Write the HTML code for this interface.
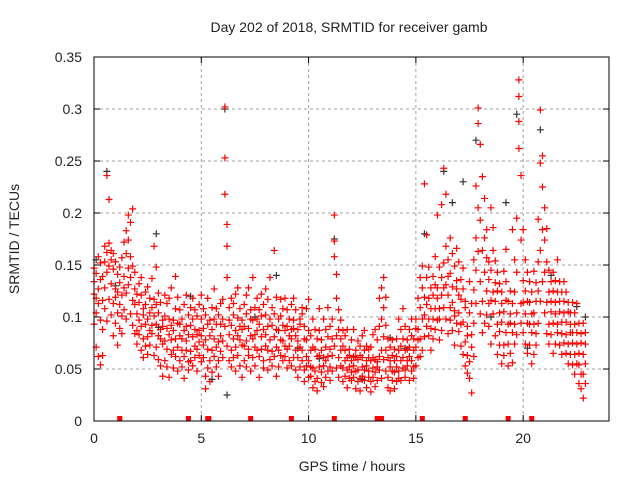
<!DOCTYPE html>
<html><head><meta charset="utf-8"><style>
body{margin:0;background:#fff}
svg text{font-family:"Liberation Sans",sans-serif;font-size:14px;fill:#222}
</style></head><body>
<svg id="chart" width="640" height="480" xmlns="http://www.w3.org/2000/svg">
<rect width="640" height="480" fill="#fff"/>
<text x="349" y="32" text-anchor="middle">Day 202 of 2018, SRMTID for receiver gamb</text>
<text transform="translate(19,239) rotate(-90)" text-anchor="middle">SRMTID / TECUs</text>
<text x="352" y="471" text-anchor="middle">GPS time / hours</text>
<g id="grid"></g>
<g id="ticks"></g>
<g id="black"></g>
<g id="red"></g>
<g id="zeros"></g>
<rect x="94" y="57" width="515" height="364" fill="none" stroke="#000" stroke-width="1"/>
</svg>
<script>
const xTicks=[0,5,10,15,20];
const yTicks=[0,0.05,0.1,0.15,0.2,0.25,0.3,0.35];
const yTickLabels=["0","0.05","0.1","0.15","0.2","0.25","0.3","0.35"];
const redRows=[
[0.0,.122,.093,.147,.134],[0.1,.104,.142,.071,.118],[0.2,.062,.113,.158,.127],[0.3,.136,.054,.097,.152],[0.4,.088,.139,.116,.063],
[0.5,.153,.108,.128,.168],[0.6,.143,.162,.096,.236],[0.7,.117,.171,.213,.149],[0.8,.164,.102,.132,.155],[0.9,.113,.146,.082,.161],
[1.0,.094,.127,.153,.119],[1.1,.124,.073,.104,.141],[1.2,.148,.112,.089,.133],[1.3,.101,.157,.121,.084],[1.4,.139,.172,.107,.128],
[1.5,.183,.123,.161,.098],[1.6,.198,.147,.131,.174],[1.7,.191,.138,.103,.158],[1.8,.204,.116,.149,.092],[1.9,.112,.143,.084,.127],
[2.0,.103,.087,.122,.074],[2.1,.083,.114,.132,.097],[2.2,.091,.138,.068,.121],[2.3,.108,.079,.102,.061],[2.4,.072,.124,.093,.112],
[2.5,.098,.081,.129,.064],[2.6,.087,.118,.073,.104],[2.7,.137,.084,.109,.092],[2.8,.063,.101,.117,.168],[2.9,.093,.071,.112,.148],
[3.0,.082,.104,.059,.123],[3.1,.053,.088,.114,.079],[3.2,.074,.097,.043,.091],[3.3,.101,.077,.121,.058],[3.4,.089,.052,.069,.113],
[3.5,.118,.083,.098,.042],[3.6,.064,.092,.078,.128],[3.7,.097,.068,.051,.087],[3.8,.079,.108,.062,.139],[3.9,.071,.094,.119,.048],
[4.0,.093,.058,.082,.107],[4.1,.052,.079,.098,.068],[4.2,.112,.062,.087,.041],[4.3,.068,.091,.121,.077],[4.4,.057,.102,.083,.049],
[4.5,.092,.067,.109,.058],[4.6,.098,.081,.053,.118],[4.7,.072,.107,.088,.061],[4.8,.048,.083,.101,.069],[4.9,.087,.063,.112,.076],
[5.0,.082,.098,.057,.121],[5.1,.061,.089,.073,.108],[5.2,.043,.078,.102,.031],[5.3,.069,.051,.093,.118],[5.4,.097,.058,.082,.038],
[5.5,.088,.109,.068,.047],[5.6,.079,.062,.098,.127],[5.7,.071,.093,.052,.108],[5.8,.058,.102,.076,.043],[5.9,.093,.067,.113,.082],
[6.0,.077,.117,.061,.098],[6.1,.302,.253,.218,.091],[6.2,.189,.168,.138,.072],[6.3,.109,.083,.097,.058],[6.4,.068,.092,.118,.052],
[6.5,.102,.061,.079,.113],[6.6,.087,.122,.071,.048],[6.7,.063,.082,.099,.128],[6.8,.078,.108,.053,.091],[6.9,.097,.073,.088,.042],
[7.0,.072,.091,.112,.058],[7.1,.052,.077,.103,.121],[7.2,.089,.063,.128,.069],[7.3,.107,.082,.048,.098],[7.4,.061,.097,.079,.138],
[7.5,.083,.053,.109,.071],[7.6,.098,.068,.087,.118],[7.7,.042,.093,.062,.107],[7.8,.081,.122,.069,.101],[7.9,.058,.088,.112,.051],
[8.0,.102,.072,.083,.127],[8.1,.049,.091,.117,.068],[8.2,.078,.059,.098,.138],[8.3,.109,.067,.092,.053],[8.4,.164,.081,.062,.103],
[8.5,.088,.119,.071,.043],[8.6,.068,.098,.052,.087],[8.7,.101,.063,.078,.117],[8.8,.077,.108,.058,.092],[8.9,.062,.087,.118,.072],
[9.0,.091,.069,.051,.107],[9.1,.072,.098,.082,.058],[9.2,.053,.079,.112,.088],[9.3,.097,.061,.089,.118],[9.4,.082,.107,.049,.068],
[9.5,.061,.088,.077,.042],[9.6,.093,.052,.098,.071],[9.7,.068,.103,.058,.109],[9.8,.049,.079,.091,.038],[9.9,.078,.062,.108,.053],
[10.0,.058,.087,.042,.117],[10.1,.043,.068,.052,.082],[10.2,.051,.032,.071,.098],[10.3,.069,.048,.038,.088],[10.4,.041,.062,.079,.029],
[10.5,.063,.087,.052,.108],[10.6,.078,.047,.068,.037],[10.7,.053,.098,.061,.033],[10.8,.088,.058,.042,.071],[10.9,.062,.081,.109,.048],
[11.0,.069,.052,.091,.039],[11.1,.048,.079,.063,.098],[11.2,.198,.173,.158,.072],[11.3,.141,.118,.082,.051],[11.4,.061,.088,.107,.042],
[11.5,.079,.053,.068,.097],[11.6,.051,.072,.087,.038],[11.7,.068,.043,.058,.082],[11.8,.088,.061,.049,.032],[11.9,.052,.069,.041,.063],
[12.0,.058,.039,.078,.047],[12.1,.042,.062,.053,.088],[12.2,.068,.048,.031,.061],[12.3,.049,.077,.038,.059],[12.4,.063,.041,.072,.029],
[12.5,.082,.052,.061,.043],[12.6,.039,.068,.049,.087],[12.7,.058,.032,.053,.072],[12.8,.048,.069,.042,.061],[12.9,.071,.038,.058,.028],
[13.0,.042,.061,.051,.083],[13.1,.059,.047,.088,.033],[13.2,.078,.057,.039,.052],[13.3,.049,.091,.118,.062],[13.4,.068,.128,.098,.041],
[13.5,.109,.138,.059,.081],[13.6,.092,.048,.119,.068],[13.7,.061,.042,.079,.032],[13.8,.052,.071,.029,.058],[13.9,.039,.063,.048,.078],
[14.0,.058,.031,.069,.047],[14.1,.079,.052,.038,.062],[14.2,.048,.068,.098,.041],[14.3,.072,.039,.058,.088],[14.4,.061,.079,.051,.108],
[14.5,.042,.068,.091,.049],[14.6,.069,.053,.078,.058],[14.7,.088,.062,.039,.071],[14.8,.058,.082,.048,.098],[14.9,.079,.052,.068,.041],
[15.0,.071,.098,.053,.089],[15.1,.088,.061,.118,.078],[15.2,.109,.079,.138,.062],[15.3,.128,.098,.068,.149],[15.4,.102,.228,.119,.081],
[15.5,.179,.138,.091,.112],[15.6,.118,.082,.148,.098],[15.7,.089,.128,.108,.068],[15.8,.139,.098,.121,.079],[15.9,.108,.158,.088,.131],
[16.0,.128,.198,.097,.118],[16.1,.098,.148,.078,.108],[16.2,.208,.121,.138,.087],[16.3,.152,.243,.109,.128],[16.4,.218,.131,.168,.098],
[16.5,.121,.155,.084,.139],[16.6,.097,.142,.176,.109],[16.7,.129,.087,.161,.114],[16.8,.106,.149,.073,.101],[16.9,.135,.094,.127,.166],
[17.0,.086,.121,.153,.104],[17.1,.117,.072,.136,.093],[17.2,.095,.127,.064,.147],[17.3,.076,.109,.053,.115],[17.4,.063,.091,.046,.082],
[17.5,.104,.057,.134,.041],[17.6,.083,.027,.113,.071],[17.7,.155,.094,.062,.126],[17.8,.226,.176,.113,.145],[17.9,.301,.286,.205,.163],
[18.0,.266,.193,.134,.103],[18.1,.235,.164,.115,.085],[18.2,.214,.143,.094,.176],[18.3,.184,.125,.157,.102],[18.4,.113,.153,.091,.136],
[18.5,.205,.145,.116,.074],[18.6,.164,.103,.186,.124],[18.7,.133,.082,.115,.154],[18.8,.125,.093,.064,.143],[18.9,.104,.073,.132,.086],
[19.0,.095,.124,.055,.113],[19.1,.073,.105,.144,.063],[19.2,.134,.085,.116,.165],[19.3,.115,.074,.093,.053],[19.4,.094,.125,.065,.103],
[19.5,.085,.113,.184,.056],[19.6,.124,.155,.093,.074],[19.7,.195,.143,.104,.083],[19.8,.328,.312,.262,.288],[19.9,.236,.174,.113,.094],
[20.0,.184,.135,.085,.114],[20.1,.103,.155,.074,.125],[20.2,.143,.094,.115,.065],[20.3,.114,.073,.134,.093],[20.4,.085,.124,.055,.103],
[20.5,.104,.064,.093,.144],[20.6,.133,.084,.115,.073],[20.7,.194,.125,.094,.153],[20.8,.299,.248,.164,.115],[20.9,.255,.225,.184,.134],
[21.0,.205,.174,.143,.104],[21.1,.153,.114,.185,.084],[21.2,.124,.093,.145,.074],[21.3,.105,.134,.083,.115],[21.4,.143,.094,.125,.065],
[21.5,.114,.074,.103,.135],[21.6,.093,.155,.085,.124],[21.7,.134,.105,.073,.115],[21.8,.084,.124,.095,.064],[21.9,.115,.075,.104,.134],
[22.0,.095,.124,.065,.083],[22.1,.074,.105,.114,.055],[22.2,.104,.064,.085,.093],[22.3,.085,.114,.054,.075],[22.4,.064,.093,.045,.104],
[22.5,.113,.074,.085,.055],[22.6,.054,.094,.065,.036],[22.7,.075,.045,.084,.031],[22.8,.022,.064,.045,.094],[22.9,.055,.036,.074,.085]
];
const blackPoints=[[0.1,.155],[0.6,.24],[2.9,.18],[6.1,.30],[5.5,.04],[6.2,.025],[8.5,.14],[11.2,.175],[13.8,.08],
[15.4,.18],[16.3,.24],[16.7,.21],[17.2,.23],[17.8,.27],[19.7,.295],[20.8,.28],[19.2,.21],[21.3,.14],[22.5,.11],
[3.0,.09],[4.5,.12],[9.5,.07],[10.5,.06],[12.5,.04],[14.5,.07],[18.5,.10],[20.2,.07],[1.0,.13],[7.5,.10],[22.9,.10]];
const zeroTimes=[1.2,4.4,5.3,5.35,7.3,9.2,11.2,13.2,13.4,15.3,17.3,19.3,20.4];

const X0=94,X1=609,Y0=421,Y1=57,XMAX=24,YMAX=0.35;
function sx(t){return X0+(X1-X0)*t/XMAX;}
function sy(v){return Y0-(Y0-Y1)*v/YMAX;}
const NS="http://www.w3.org/2000/svg";
function mk(tag,attrs,parent){const e=document.createElementNS(NS,tag);for(const k in attrs)e.setAttribute(k,attrs[k]);parent.appendChild(e);return e;}
const grid=document.getElementById('grid'),ticks=document.getElementById('ticks');
xTicks.forEach(t=>{
  const x=sx(t);
  if(t>0){const g=mk('line',{x1:x,x2:x,y1:Y1,y2:Y0,stroke:'#a0a0a0','stroke-dasharray':'3,3'},grid);
  
  }
  mk('line',{x1:x,x2:x,y1:Y0,y2:Y0-6,stroke:'#000'},ticks);
  mk('line',{x1:x,x2:x,y1:Y1,y2:Y1+6,stroke:'#000'},ticks);
  const l=mk('text',{x:x,y:Y0+22,'text-anchor':'middle'},ticks);l.textContent=t;
  
  
});
yTicks.forEach((v,i)=>{
  const y=sy(v);
  if(v>0&&v<YMAX){const g=mk('line',{x1:X0,x2:X1,y1:y,y2:y,stroke:'#a0a0a0','stroke-dasharray':'3,3'},grid);
  
  }
  mk('line',{x1:X0,x2:X0+6,y1:y,y2:y,stroke:'#000'},ticks);
  mk('line',{x1:X1,x2:X1-6,y1:y,y2:y,stroke:'#000'},ticks);
  const l=mk('text',{x:X0-12,y:y+5,'text-anchor':'end'},ticks);l.textContent=yTickLabels[i];
  
  
});
function plus(g,t,v,col,name){
  const x=sx(t),y=sy(v);
  const p=mk('path',{d:`M${x-3.5},${y}h7M${x},${y-3.5}v7`,stroke:col,'stroke-width':1.2,fill:'none'},g);
  
  
}
const bg=document.getElementById('black'),rg=document.getElementById('red'),zg=document.getElementById('zeros');
blackPoints.forEach(p=>plus(bg,p[0],p[1],'#333','black-point'));
redRows.forEach(r=>{for(let i=1;i<r.length;i++)plus(rg,r[0],r[i],'#ff0000','red-point');});
zeroTimes.forEach(t=>{
  const r=mk('rect',{x:sx(t)-2.5,y:sy(0)-5,width:5,height:5,fill:'#ff0000'},zg);
  
  
});
</script>
</body></html>
